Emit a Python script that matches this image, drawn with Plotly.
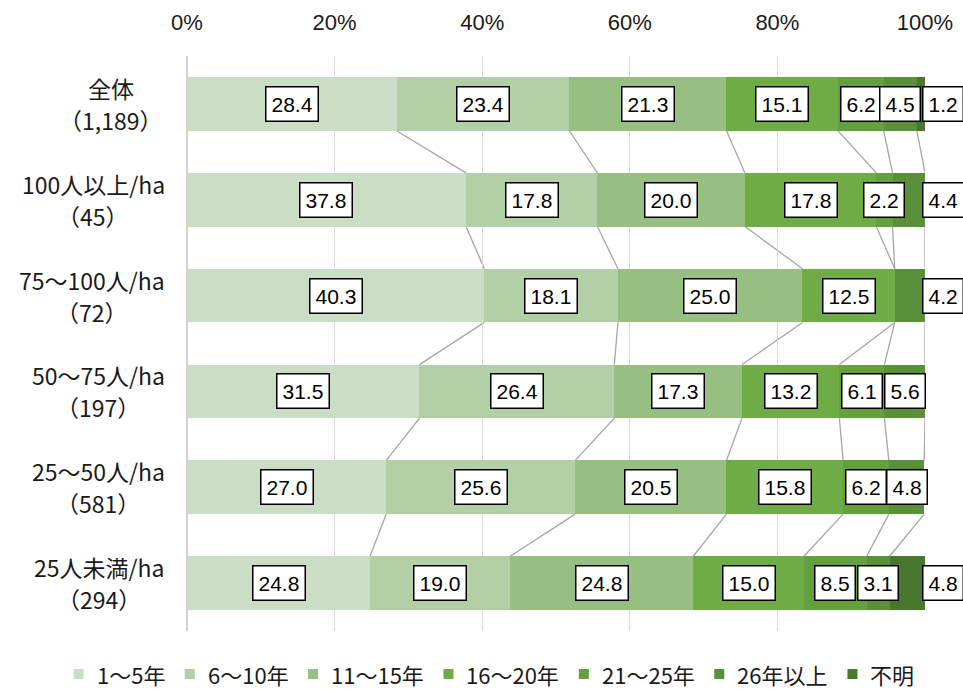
import plotly.graph_objects as go

categories = ["全体", "100人以上/ha", "75～100人/ha", "50～75人/ha", "25～50人/ha", "25人未満/ha"]
counts = ["1,189", "45", "72", "197", "581", "294"]
series_names = ["1～5年", "6～10年", "11～15年", "16～20年", "21～25年", "26年以上", "不明"]
v_1_5 = [28.4, 37.8, 40.3, 31.5, 27.0, 24.8]
v_6_10 = [23.4, 17.8, 18.1, 26.4, 25.6, 19.0]
v_11_15 = [21.3, 20.0, 25.0, 17.3, 20.5, 24.8]
v_16_20 = [15.1, 17.8, 12.5, 13.2, 15.8, 15.0]
v_21_25 = [6.2, 2.2, 0.0, 6.1, 6.2, 8.5]
v_26 = [4.5, 4.4, 4.2, 5.6, 4.8, 3.1]
v_unknown = [1.2, 0.0, 0.0, 0.0, 0.0, 4.8]
colors = ["#cbdec5", "#b3cfa6", "#98bf82", "#6fac46", "#65a03f", "#5a9039", "#4a772e"]

series = [v_1_5, v_6_10, v_11_15, v_16_20, v_21_25, v_26, v_unknown]
n = len(categories)
ypos = list(range(n))
BAR_W = 0.56

JP = "Noto Sans CJK JP"
NUM = "Liberation Sans"

W, H = 963, 689
ML, MR, MT, MB = 187, 38, 56, 58
PW = W - ML - MR
PH = H - MT - MB


def text_width(s, fs):
    w = 0.0
    for ch in s:
        if ord(ch) > 0x2000:
            w += 1.0
        elif ch in "/,.":
            w += 0.33
        else:
            w += 0.55
    return w * fs


fig = go.Figure()
for name, vals, col in zip(series_names, series, colors):
    fig.add_trace(go.Bar(
        y=ypos, x=vals, name=name, orientation="h",
        marker=dict(color=col, line=dict(width=0)),
        width=BAR_W, hoverinfo="skip", showlegend=False,
    ))

# cumulative sums
cums = []
for i in range(n):
    c = []
    s = 0.0
    for vals in series:
        s += vals[i]
        c.append(s)
    cums.append(c)

# connector lines
shapes = []
for i in range(n - 1):
    for k in range(len(series) - 1):
        shapes.append(dict(
            type="line", xref="x", yref="y",
            x0=min(cums[i][k], 100), y0=i + BAR_W / 2,
            x1=min(cums[i + 1][k], 100), y1=i + 1 - BAR_W / 2,
            line=dict(color="#a6a6a6", width=1.3), layer="below",
        ))

annotations = []
# data labels
for i in range(n):
    last_nz = max(k for k in range(len(series)) if series[k][i] > 0)
    start = 0.0
    for k, vals in enumerate(series):
        v = vals[i]
        if v > 0:
            center = start + v / 2
            outside = (k == last_nz) and (k == len(series) - 1 or v < 4.5)
            ann = dict(
                xref="x", yref="y", x=center, y=i,
                text=f"{v:.1f}", showarrow=False,
                font=dict(family=NUM, size=21, color="black"),
                bgcolor="white", bordercolor="black", borderwidth=1.5, borderpad=5,
            )
            if outside:
                ann["x"] = 100
                ann["xshift"] = 18
            annotations.append(ann)
        start += v

# category labels (two lines, centred on each other, block right-aligned)
CAT_FS = 23
RIGHT_PX = 163
for i in range(n):
    l1 = categories[i]
    l2 = f"（{counts[i]}）"
    wmax = max(text_width(l1, CAT_FS), text_width(l2, CAT_FS))
    cx = RIGHT_PX - wmax / 2
    for txt, dy in ((l1, 16), (l2, -16)):
        annotations.append(dict(
            xref="paper", yref="y", x=0, y=i, xanchor="center", yanchor="middle",
            xshift=cx - ML, yshift=dy, showarrow=False, text=txt,
            font=dict(family=JP, size=CAT_FS, color="#1a1a1a"),
        ))

# custom single-row legend
LEG_FS = 22
SQ, GAP1, GAP2 = 10, 11, 22
widths = [SQ + GAP1 + text_width(s, LEG_FS) for s in series_names]
total = sum(widths) + GAP2 * (len(widths) - 1)
legend_center_px = 493
x_px = legend_center_px - total / 2
leg_y_px = 674
y_paper = (MT + PH - leg_y_px) / PH
for name, col, w in zip(series_names, colors, widths):
    x0 = (x_px - ML) / PW
    x1 = (x_px + SQ - ML) / PW
    shapes.append(dict(
        type="rect", xref="paper", yref="paper",
        x0=x0, x1=x1, y0=y_paper - (SQ / 2) / PH, y1=y_paper + (SQ / 2) / PH,
        fillcolor=col, line=dict(width=0),
    ))
    annotations.append(dict(
        xref="paper", yref="paper", x=(x_px + SQ + GAP1 - ML) / PW, y=y_paper,
        xanchor="left", yanchor="middle", showarrow=False, text=name,
        font=dict(family=JP, size=LEG_FS, color="#1a1a1a"),
    ))
    x_px += w + GAP2

fig.update_layout(
    width=W, height=H,
    margin=dict(l=ML, r=MR, t=MT, b=MB, autoexpand=False),
    paper_bgcolor="white", plot_bgcolor="white",
    barmode="stack", bargap=0,
    showlegend=False,
    xaxis=dict(
        range=[0, 100], side="top",
        tickvals=[0, 20, 40, 60, 80, 100], ticktext=["0%", "20%", "40%", "60%", "80%", "100%"],
        tickfont=dict(family=NUM, size=22, color="#1a1a1a"),
        showgrid=True, gridcolor="#d9d9d9", gridwidth=1.3,
        zeroline=True, zerolinecolor="#d0d0d0", zerolinewidth=2,
        showline=False, ticks="", ticklabelstandoff=21,
        fixedrange=True, automargin=False,
    ),
    yaxis=dict(
        range=[n - 0.5, -0.5], showticklabels=False, showgrid=False,
        zeroline=False, showline=False, ticks="", fixedrange=True,
    ),
    shapes=shapes,
    annotations=annotations,
)

fig.write_html("out.html")
